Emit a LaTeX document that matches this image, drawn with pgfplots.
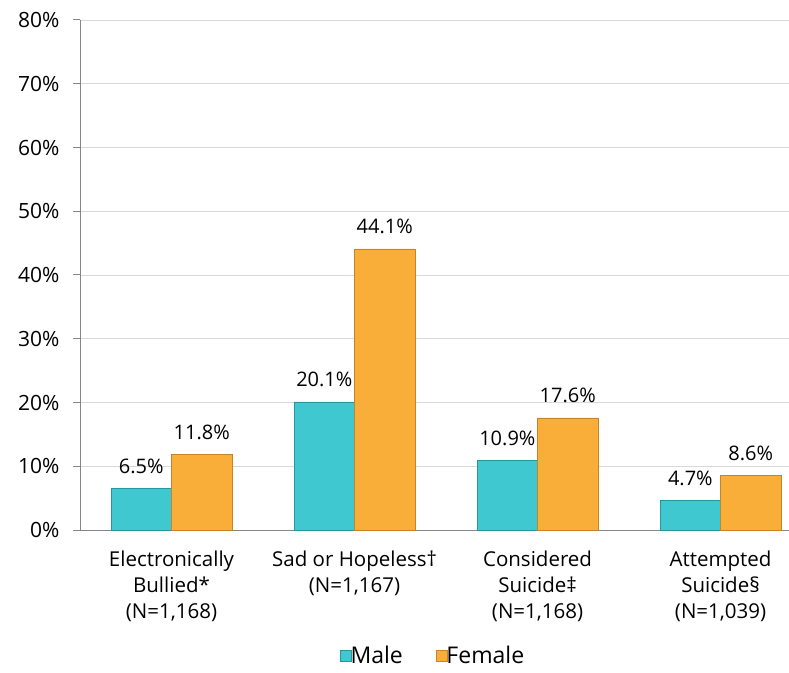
\documentclass[border=0pt]{standalone}
\usepackage{pgfplots}
\pgfplotsset{compat=1.18}
\usepackage{fontspec}
\setmainfont{Open Sans}
\definecolor{male}{RGB}{64,200,208}
\definecolor{maleedge}{RGB}{40,150,158}
\definecolor{female}{RGB}{250,174,58}
\definecolor{femaleedge}{RGB}{200,130,40}
\definecolor{gridc}{RGB}{217,217,217}
\definecolor{axc}{RGB}{134,134,134}
\begin{document}
\begin{tikzpicture}[x=1pt,y=1pt]
\begin{axis}[
  at={(80pt,142pt)}, anchor=south west,
  scale only axis, width=709pt, height=510pt,
  ybar=0pt, bar width=0.33,
  xmin=-0.5, xmax=3.374,
  ymin=0, ymax=80,
  ytick={0,10,...,80},
  yticklabel={\pgfmathprintnumber{\tick}\%},
  /pgf/number format/assume math mode=true,
  ymajorgrids, grid style={gridc, line width=0.8pt},
  axis x line*=bottom, axis y line*=left,
  axis line style={axc, line width=1pt},
  y axis line style={-}, x axis line style={-},
  ytick style={axc, line width=1pt},
  major tick length=7pt,
  ytick align=outside,
  xtick={0,1,2,3}, xtick style={draw=none},
  xticklabels={{Electronically\\Bullied*\\(N=1,168)},{Sad or Hopeless†\\(N=1,167)},{Considered\\Suicide‡\\(N=1,168)},{Attempted\\Suicide§\\(N=1,039)}},
  xticklabel style={align=center, font=\fontsize{20.5}{26}\selectfont, yshift=-10pt},
  yticklabel style={font=\fontsize{21}{25}\selectfont, xshift=-10pt},
  nodes near coords={\pgfmathprintnumber[fixed,precision=1,fixed zerofill]{\pgfplotspointmeta}\%},
  nodes near coords style={font=\fontsize{20}{24}\selectfont, black, yshift=11pt},
  legend style={at={(0.498,-0.247)}, anchor=center, draw=none, fill=none,
    legend columns=2, font=\fontsize{23}{26}\selectfont, inner sep=0pt,
    /tikz/every even column/.append style={column sep=31pt},
    /tikz/every odd column/.append style={column sep=-3pt}},
  legend image code/.code={\draw[#1] (0pt,-5pt) rectangle (11pt,6pt);},
  clip=false,
]
\addplot[fill=male, draw=maleedge, line width=0.6pt] coordinates {(0,6.5) (1,20.1) (2,10.9) (3,4.7)};
\addplot[fill=female, draw=femaleedge, line width=0.6pt] coordinates {(0,11.8) (1,44.1) (2,17.6) (3,8.6)};
\legend{Male,Female}
\end{axis}
\pgfresetboundingbox
\useasboundingbox (0,0) rectangle (789pt,672pt);
\end{tikzpicture}
\end{document}
